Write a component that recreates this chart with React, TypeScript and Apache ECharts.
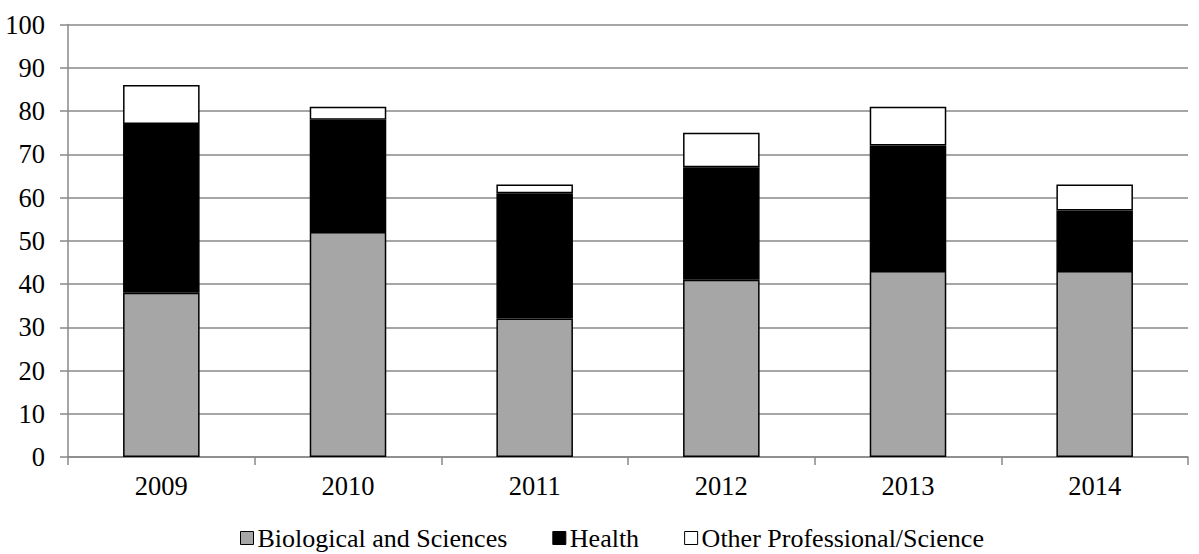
import React, { useEffect, useRef } from "react";
import * as echarts from "echarts";

const categories = ["2009", "2010", "2011", "2012", "2013", "2014"];
const biological = [38, 52, 32, 41, 43, 43];
const health = [39, 26, 29, 26, 29, 14];
const other = [9, 3, 2, 8, 9, 6];
const seriesNames = ["Biological and Sciences", "Health", "Other Professional/Science"];

export default function App() {
  const ref = useRef<HTMLDivElement>(null);
  useEffect(() => {
    document.body.style.margin = "0";
    document.body.style.overflow = "hidden";
    const chart = echarts.init(ref.current!, null, { renderer: "svg" });
    const font = "'Liberation Serif', 'Times New Roman', serif";
    const mk = (name: string, data: number[], color: string) => ({
      name,
      type: "bar",
      stack: "total",
      data,
      barWidth: "41%",
      itemStyle: { color, borderColor: "#000", borderWidth: 1.5 },
    });
    chart.setOption({
      animation: false,
      textStyle: { fontFamily: font },
      grid: { left: 68, right: 11, top: 24.5, bottom: 97 },
      legend: {
        left: 240,
        top: 524,
        padding: 0,
        itemWidth: 13,
        itemHeight: 13,
        itemGap: 45,
        icon: "rect",
        textStyle: { fontFamily: font, fontSize: 26, lineHeight: 28, color: "#000", padding: [0, 0, 0, -1] },
        itemStyle: { borderColor: "#000", borderWidth: 1 },
        data: seriesNames,
      },
      xAxis: {
        type: "category",
        data: categories,
        axisLine: { lineStyle: { color: "#888", width: 1.5 } },
        axisTick: { show: true, length: 8, lineStyle: { color: "#888", width: 1.5 } },
        axisLabel: { color: "#000", fontSize: 26.5, fontFamily: font, margin: 15 },
      },
      yAxis: {
        type: "value",
        min: 0,
        max: 100,
        interval: 10,
        axisLine: { show: true, lineStyle: { color: "#888", width: 1.5 } },
        axisTick: { show: true, length: 8, lineStyle: { color: "#888", width: 1.5 } },
        splitLine: { lineStyle: { color: "#888", width: 1.5 } },
        axisLabel: { color: "#000", fontSize: 26.5, fontFamily: font, margin: 23 },
      },
      series: [
        mk(seriesNames[0], biological, "#a6a6a6"),
        mk(seriesNames[1], health, "#000000"),
        mk(seriesNames[2], other, "#ffffff"),
      ],
    });
    return () => chart.dispose();
  }, []);
  return <div ref={ref} style={{ width: 1199, height: 554 }} />;
}
